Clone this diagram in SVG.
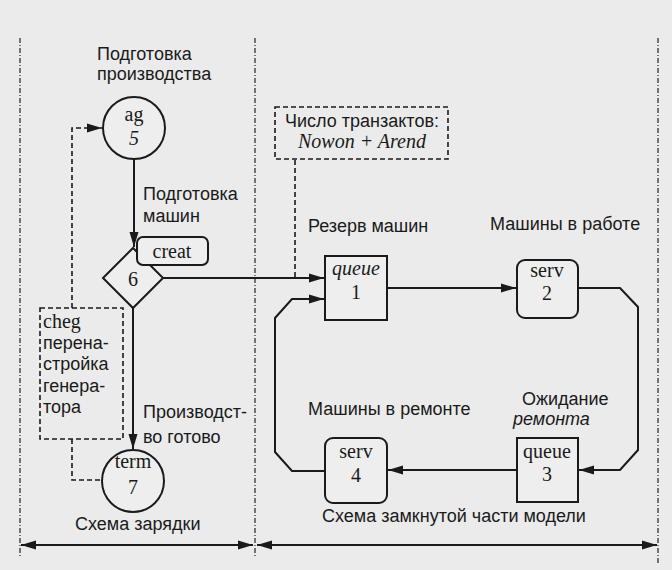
<svg xmlns="http://www.w3.org/2000/svg" width="672" height="570" viewBox="0 0 672 570">
<style>
.bg{fill:#ebebeb}
.ln{fill:none;stroke:#1a1a1a;stroke-width:2}
.dl{fill:none;stroke:#1a1a1a;stroke-width:1.6;stroke-dasharray:5,3}
.dg{fill:none;stroke:#333;stroke-width:1.3;stroke-dasharray:5,2,1,2}
.nd{fill:#eeeeee;stroke:#1a1a1a;stroke-width:2}
.lb{font-family:"Liberation Sans",Arial,sans-serif;font-size:18px;fill:#1a1a1a}
.sf{font-family:"Liberation Serif","Times New Roman",serif;font-size:20px;fill:#1a1a1a}
.it{font-style:italic}
</style>
<defs>
<marker id="ah" viewBox="0 0 15 10" refX="15" refY="5" markerWidth="15" markerHeight="10" markerUnits="userSpaceOnUse" orient="auto">
<path d="M0,0.5 L15,5 L0,9.5 Z" fill="#1a1a1a"/>
</marker>
</defs>
<rect class="bg" x="0" y="0" width="672" height="570"/>
<g id="frame">
<line class="dg" x1="20" y1="38" x2="20" y2="558"/>
<line class="dg" x1="255" y1="38" x2="255" y2="558"/>
<line class="dg" x1="658" y1="38" x2="658" y2="563"/>
</g>
<g id="connectors">
<line class="ln" x1="134" y1="159" x2="134" y2="247" marker-end="url(#ah)"/>
<line class="ln" x1="163" y1="278" x2="324" y2="278" marker-end="url(#ah)"/>
<line class="ln" x1="133" y1="308" x2="133" y2="449" marker-end="url(#ah)"/>
<line class="ln" x1="387" y1="288" x2="516" y2="288" marker-end="url(#ah)"/>
<polyline class="ln" points="578,288 620,288 638,307 638,450 620,470 579,470" marker-end="url(#ah)"/>
<line class="ln" x1="517" y1="470" x2="388" y2="470" marker-end="url(#ah)"/>
<polyline class="ln" points="325,471 292,471 275,452 275,318 292,299 324,299" marker-end="url(#ah)"/>
<polyline class="dl" points="72,308 72,128 102,128" marker-end="url(#ah)"/>
<polyline class="dl" points="72,439 72,480 102,480"/>
<line class="dl" x1="295" y1="160" x2="295" y2="277"/>
<line class="ln" x1="137" y1="545" x2="21" y2="545" marker-end="url(#ah)"/>
<line class="ln" x1="137" y1="545" x2="253" y2="545" marker-end="url(#ah)"/>
<line class="ln" x1="457" y1="545" x2="257" y2="545" marker-end="url(#ah)"/>
<line class="ln" x1="457" y1="545" x2="657" y2="545" marker-end="url(#ah)"/>
</g>
<g id="n5">
<circle class="nd" cx="134" cy="128" r="31"/>
<text class="sf" x="134" y="121" text-anchor="middle">ag</text>
<text class="sf it" x="134" y="145" text-anchor="middle">5</text>
</g>
<g id="n6">
<polygon class="nd" points="133,248 163,278 133,308 103,278"/>
<text class="sf" x="133" y="286" text-anchor="middle">6</text>
</g>
<g id="creat">
<rect class="nd" x="137" y="237" width="71" height="28" rx="6"/>
<text class="sf" x="172" y="258" text-anchor="middle">creat</text>
</g>
<g id="n7">
<circle class="nd" cx="133" cy="481" r="31"/>
<text class="sf" x="133" y="468" text-anchor="middle">term</text>
<text class="sf" x="133" y="494" text-anchor="middle">7</text>
</g>
<g id="cheg">
<rect class="dl" x="40" y="308" width="83" height="131" fill="#eeeeee"/>
<text class="sf" x="43" y="328">cheg</text>
<text class="lb" x="43" y="349">перена-</text>
<text class="lb" x="43" y="370">стройка</text>
<text class="lb" x="43" y="392">генера-</text>
<text class="lb" x="43" y="413">тора</text>
</g>
<g id="count">
<rect class="dl" x="275" y="107" width="173" height="52" fill="#eeeeee"/>
<text class="lb" x="362" y="127" text-anchor="middle">Число транзактов:</text>
<text class="sf it" x="362" y="148" text-anchor="middle">Nowon + Arend</text>
</g>
<g id="n1">
<rect class="nd" x="325" y="256" width="62" height="64"/>
<text class="sf it" x="356" y="275" text-anchor="middle">queue</text>
<text class="sf" x="356" y="299" text-anchor="middle">1</text>
</g>
<g id="n2">
<rect class="nd" x="517" y="260" width="61" height="58" rx="8"/>
<text class="sf" x="547" y="277" text-anchor="middle">serv</text>
<text class="sf" x="547" y="300" text-anchor="middle">2</text>
</g>
<g id="n3">
<rect class="nd" x="517" y="438" width="61" height="64"/>
<text class="sf" x="547" y="458" text-anchor="middle">queue</text>
<text class="sf" x="547" y="481" text-anchor="middle">3</text>
</g>
<g id="n4">
<rect class="nd" x="325" y="438" width="62" height="65" rx="8"/>
<text class="sf" x="356" y="458" text-anchor="middle">serv</text>
<text class="sf" x="356" y="482" text-anchor="middle">4</text>
</g>
<g id="labels">
<text class="lb" x="97" y="60">Подготовка</text>
<text class="lb" x="97" y="80">производства</text>
<text class="lb" x="143" y="200">Подготовка</text>
<text class="lb" x="143" y="222">машин</text>
<text class="lb" x="143" y="418">Производст-</text>
<text class="lb" x="143" y="443">во готово</text>
<text class="lb" x="75" y="530">Схема зарядки</text>
<text class="lb" x="308" y="232">Резерв машин</text>
<text class="lb" x="490" y="230">Машины в работе</text>
<text class="lb" x="308" y="415">Машины в ремонте</text>
<text class="lb" x="522" y="405">Ожидание</text>
<text class="lb it" x="513" y="425">ремонта</text>
<text class="lb" x="322" y="522">Схема замкнутой части модели</text>
</g>
</svg>
